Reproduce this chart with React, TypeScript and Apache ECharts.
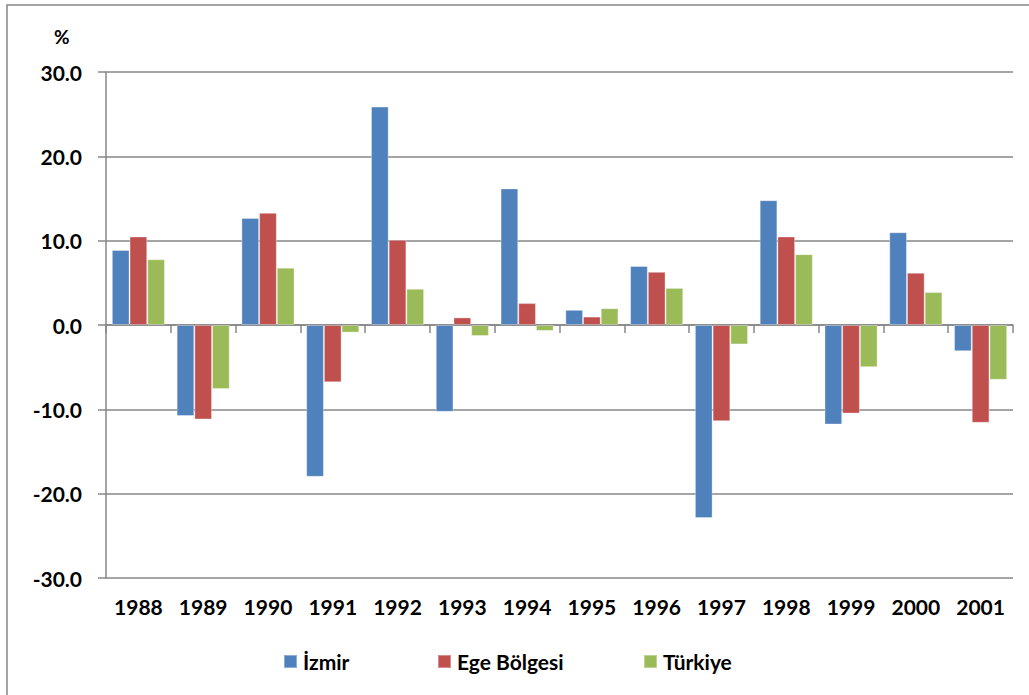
import React, { useEffect, useRef } from "react";
import * as echarts from "echarts";

const years = ["1988", "1989", "1990", "1991", "1992", "1993", "1994", "1995", "1996", "1997", "1998", "1999", "2000", "2001"];
const izmir = [8.9, -10.8, 12.7, -18.0, 25.9, -10.3, 16.2, 1.8, 7.0, -22.9, 14.8, -11.8, 11.0, -3.1];
const ege = [10.5, -11.2, 13.3, -6.8, 10.1, 0.9, 2.6, 1.0, 6.3, -11.4, 10.5, -10.5, 6.2, -11.6];
const turkiye = [7.8, -7.6, 6.8, -0.9, 4.3, -1.3, -0.7, 2.0, 4.4, -2.3, 8.4, -5.0, 3.9, -6.5];
const seriesNames = ["İzmir", "Ege Bölgesi", "Türkiye"];
const colors = ["#4F81BD", "#C0504D", "#9BBB59"];

const FONT = "Lato";
const GRAY = "#878787";

export default function App() {
  const ref = useRef<HTMLDivElement>(null);
  useEffect(() => {
    if (!ref.current) return;
    const chart = echarts.init(ref.current, null, { renderer: "svg" });
    const textStyle = { fontFamily: FONT, fontWeight: "bold" as const, fontSize: 21, color: "#000" };
    const legendLefts = [283, 437, 643];
    chart.setOption({
      animation: false,
      backgroundColor: "#fff",
      grid: { left: 106, right: 16, top: 72, bottom: 117, containLabel: false },
      graphic: [
        {
          type: "rect",
          shape: { x: 7, y: 5, width: 1100, height: 800 },
          style: { fill: "none", stroke: GRAY, lineWidth: 1.5 },
          silent: true,
        },
        {
          type: "text",
          left: 54,
          top: 27,
          style: { text: "%", font: `bold 19px ${FONT}`, fill: "#000" },
        },
      ],
      legend: seriesNames.map((n, i) => ({
        data: [n],
        left: legendLefts[i],
        top: 651,
        padding: 0,
        itemWidth: 13,
        itemHeight: 13,
        itemGap: 6,
        icon: "rect",
        textStyle: { ...textStyle, padding: [0, 0, 0, 1] },
        selectedMode: false,
      })),
      xAxis: [
        {
          type: "category",
          data: years,
          position: "bottom",
          axisLine: { show: false, onZero: false },
          axisTick: { show: false },
          axisLabel: { ...textStyle, margin: 18 },
          splitLine: { show: false },
        },
        {
          type: "category",
          data: years,
          position: "bottom",
          axisLine: { show: true, onZero: true, onZeroAxisIndex: 0, lineStyle: { color: GRAY, width: 1.5 } },
          axisTick: { show: true, length: 8, lineStyle: { color: GRAY, width: 1.5 } },
          axisLabel: { show: false },
          splitLine: { show: false },
        },
      ],
      yAxis: {
        type: "value",
        min: -30,
        max: 30,
        interval: 10,
        axisLine: { show: true, lineStyle: { color: GRAY, width: 1.5 } },
        axisTick: { show: true, length: 8, lineStyle: { color: GRAY, width: 1.5 } },
        axisLabel: { ...textStyle, margin: 24, formatter: (v: number) => v.toFixed(1) },
        splitLine: { show: true, lineStyle: { color: GRAY, width: 1.5 } },
      },
      series: [izmir, ege, turkiye].map((d, i) => ({
        name: seriesNames[i],
        type: "bar",
        xAxisIndex: 0,
        data: d,
        barGap: "0%",
        barCategoryGap: "18%",
        itemStyle: { color: colors[i], borderColor: "rgba(255,255,255,0.35)", borderWidth: 1 },
      })),
    });
    return () => chart.dispose();
  }, []);
  return (
    <div
      ref={ref}
      style={{ position: "fixed", left: 0, top: 0, width: 1029, height: 695, background: "#fff" }}
    />
  );
}
